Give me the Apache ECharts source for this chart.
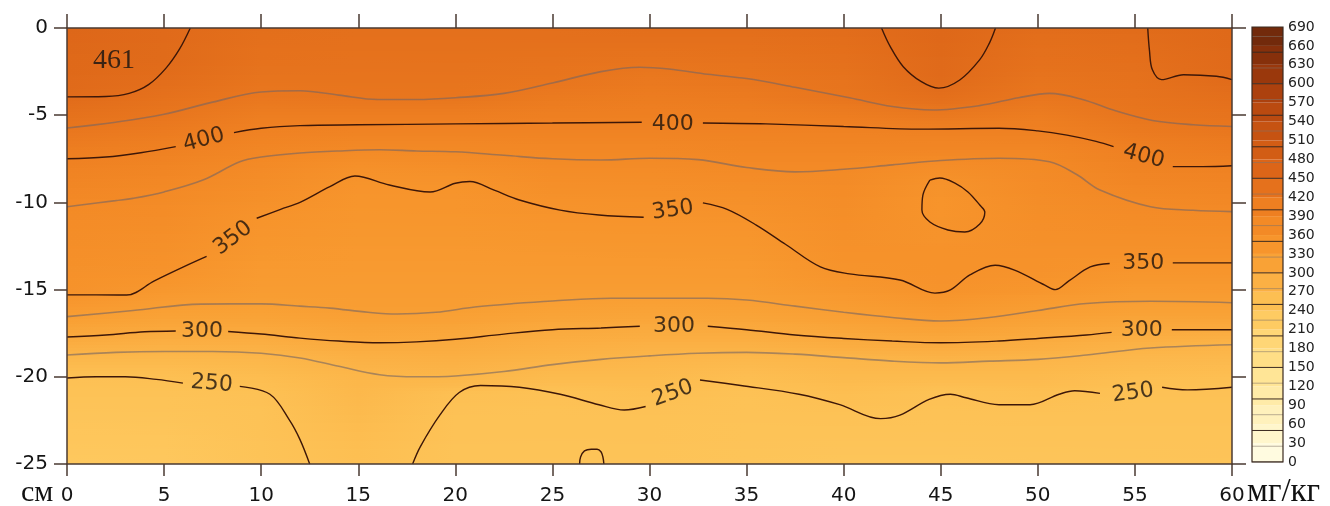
<!DOCTYPE html>
<html><head><meta charset="utf-8">
<script src="https://cdn.jsdelivr.net/npm/echarts@6/dist/echarts.min.js"></script>
<style>html,body{margin:0;padding:0;background:#fff}#c{width:1330px;height:506px}</style>
</head><body><div id="c"></div>
<script>
// ---------------- DATA ----------------
// x positions (cm) of the value grid columns, depth rows (cm)
const xCols = [0, 5, 10, 15, 20, 25, 30, 35, 40, 45, 50, 55, 60];
const depthRows = [0, -1, -2, -3, -4, -5, -6, -7, -8, -9, -10, -11, -12, -13, -14, -15, -16, -17, -18, -19, -20, -21, -22, -23, -24, -25];
// concentration, mg/kg (one row per depth, one value per x column)
const gridValues = [
  [461, 452, 442, 438, 438, 440, 443, 442, 446, 458, 445, 448, 456],
  [458, 451, 437, 435, 435, 435, 435, 436, 441, 456, 440, 443, 454],
  [455, 450, 433, 431, 432, 430, 427, 430, 436, 453, 435, 439, 452],
  [453, 444, 428, 428, 428, 426, 419, 424, 430, 451, 429, 434, 450],
  [449, 434, 421, 424, 425, 415, 411, 414, 425, 439, 423, 430, 440],
  [435, 425, 409, 408, 408, 405, 403, 405, 410, 419, 411, 425, 431],
  [421, 412, 397, 392, 392, 393, 393, 395, 396, 398, 399, 414, 421],
  [407, 400, 385, 375, 377, 381, 381, 385, 386, 384, 384, 402, 410],
  [396, 389, 373, 358, 362, 370, 371, 375, 375, 365, 374, 393, 399],
  [386, 379, 365, 348, 349, 361, 363, 366, 371, 351, 370, 384, 389],
  [377, 372, 357, 345, 346, 353, 355, 358, 367, 348, 366, 375, 380],
  [371, 367, 349, 342, 343, 347, 348, 350, 363, 349, 363, 368, 371],
  [366, 362, 344, 339, 339, 342, 343, 344, 358, 351, 359, 361, 363],
  [361, 356, 339, 336, 336, 337, 338, 339, 354, 354, 355, 354, 354],
  [356, 351, 334, 332, 332, 333, 333, 334, 350, 353, 352, 344, 345],
  [352, 339, 329, 329, 329, 328, 328, 328, 339, 351, 343, 333, 334],
  [336, 325, 322, 326, 326, 319, 317, 319, 328, 338, 328, 321, 322],
  [315, 307, 307, 315, 313, 304, 302, 304, 313, 321, 312, 305, 305],
  [293, 288, 290, 300, 298, 291, 287, 287, 296, 300, 294, 285, 281],
  [270, 269, 272, 283, 286, 279, 273, 270, 274, 279, 275, 269, 267],
  [251, 253, 260, 273, 275, 264, 264, 257, 265, 264, 265, 258, 256],
  [247, 247, 250, 269, 254, 250, 255, 249, 256, 250, 255, 249, 249],
  [243, 244, 248, 265, 249, 248, 249, 247, 249, 248, 249, 248, 248],
  [239, 240, 247, 261, 248, 247, 248, 246, 246, 245, 246, 246, 246],
  [236, 237, 246, 257, 246, 246, 246, 244, 243, 243, 244, 244, 245],
  [232, 233, 244, 253, 245, 244, 244, 242, 240, 240, 241, 242, 243]
];
const colorbarTicks = [0, 30, 60, 90, 120, 150, 180, 210, 240, 270, 300, 330, 360, 390, 420, 450, 480, 510, 540, 570, 600, 630, 660, 690];
const palette = ['#FFFBE0', '#FFF6CC', '#FFF1BC', '#FFEBA8', '#FFE596', '#FFDE86', '#FFD676', '#FECB62', '#FDBF52', '#FBB044', '#F9A236', '#F7952C', '#F38A26', '#EE7F21', '#E5711C', '#DC6518', '#D25D15', '#C65312', '#BA4A10', '#AC410E', '#9A380C', '#86300B', '#722A0B'];
const blackLevels = [0, 50, 100, 150, 200, 250, 300, 350, 400, 450, 500, 550, 600, 650];
const grayLevels = [25, 75, 125, 175, 225, 275, 325, 375, 425, 475, 525, 575, 625, 675];

// contour lines ([x cm, depth cm])
const c450a = [[0, -3.95], [2, -3.93], [3.2, -3.75], [4.2, -3.25], [5.1, -2.3], [5.8, -1.2], [6.35, 0]];
const c450b = [[41.95, 0], [42.4, -1.07], [43.07, -2.22], [44.0, -3.08], [44.9, -3.45], [45.98, -2.98], [47.0, -1.83], [47.5, -0.88], [47.82, 0]];
const c450c = [[55.66, 0], [55.75, -1.3], [55.9, -2.4], [56.37, -2.96], [57.5, -2.68], [59.2, -2.77], [60, -2.96]];
const c425 = [[0, -5.73], [2.5, -5.4], [5, -4.95], [7.5, -4.25], [10, -3.67], [12, -3.6], [14, -3.85], [16, -4.1], [18, -4.1], [20, -4.0], [22.5, -3.75], [25, -3.15], [27.5, -2.5], [29.5, -2.25], [31, -2.35], [33, -2.65], [35, -2.9], [37.5, -3.4], [40.3, -4.0], [42.5, -4.5], [44.6, -4.7], [47, -4.45], [49, -4.0], [50.6, -3.75], [52.3, -4.1], [54, -4.75], [55.9, -5.3], [58, -5.55], [60, -5.65]];
const c400a = [[0, -7.5], [2, -7.4], [3.8, -7.15], [5.6, -6.8]];
const c400b = [[8.6, -6.0], [10, -5.75], [12, -5.6], [15, -5.55], [20, -5.5], [25, -5.45], [29.6, -5.4]];
const c400c = [[32.75, -5.45], [36, -5.5], [40, -5.65], [44, -5.8], [48, -5.75], [50, -5.9], [51.5, -6.14], [53, -6.5], [53.9, -6.8]];
const c400d = [[56.95, -7.95], [58.5, -7.95], [60, -7.9]];
const c375 = [[0, -10.25], [2.5, -9.9], [3.4, -9.77], [5, -9.4], [7, -8.72], [8.9, -7.67], [10, -7.4], [12, -7.17], [14, -7.05], [16.1, -6.98], [18, -7.05], [20, -7.1], [22.5, -7.3], [25, -7.5], [27.5, -7.57], [30, -7.47], [32.5, -7.55], [35, -8.0], [37.5, -8.25], [40, -8.1], [42.5, -7.85], [45, -7.6], [48, -7.47], [50.6, -7.67], [52, -8.4], [53.2, -9.29], [55.8, -10.25], [58, -10.45], [60, -10.53]];
const c350a = [[0, -15.3], [1.5, -15.3], [3.07, -15.31], [4.5, -14.5], [6, -13.7], [7.19, -13.1]];
const c350b = [[9.77, -10.91], [11, -10.4], [12, -10.0], [13.54, -9.1], [14.83, -8.49], [16.6, -9.0], [18.7, -9.4], [20.0, -8.9], [20.75, -8.8], [22, -9.3], [23.3, -9.86], [25.4, -10.44], [27.4, -10.72], [29.7, -10.85]];
const c350c = [[32.75, -10.03], [34.0, -10.4], [35.5, -11.3], [37, -12.4], [38.8, -13.7], [40.3, -14.1], [42.9, -14.45], [44.7, -15.2], [45.5, -15.02], [46.5, -14.16], [47.8, -13.6], [48.8, -13.88], [50.36, -14.74], [50.9, -15.0], [51.6, -14.5], [52.7, -13.7], [53.7, -13.5]];
const c350d = [[56.95, -13.47], [60, -13.47]];
const c350loop = [[44.44, -8.72], [44.95, -8.6], [45.73, -8.89], [46.4, -9.4], [47.01, -10.15], [47.27, -10.55], [47.01, -11.24], [46.24, -11.7], [45.37, -11.58], [44.44, -11.12], [44.03, -10.44], [44.08, -9.58], [44.44, -8.72]];
const c325 = [[0, -16.55], [3.4, -16.2], [6.9, -15.83], [10, -15.82], [12, -15.95], [13.54, -16.06], [15.5, -16.3], [17, -16.4], [19, -16.3], [21, -16.0], [23, -15.8], [25, -15.65], [28, -15.5], [30, -15.5], [33, -15.5], [35, -15.6], [37.5, -15.95], [40, -16.3], [42.5, -16.6], [45, -16.8], [47.5, -16.6], [50, -16.2], [52.5, -15.8], [55.8, -15.67], [60, -15.75]];
const c300a = [[0, -17.72], [2, -17.6], [4, -17.42], [5.6, -17.37]];
const c300b = [[8.3, -17.4], [10, -17.55], [12, -17.78], [14, -17.95], [16.1, -18.05], [18, -18.0], [20, -17.85], [22.5, -17.55], [25, -17.3], [27.5, -17.2], [29.5, -17.1]];
const c300c = [[33, -17.1], [35, -17.3], [37.5, -17.6], [40, -17.8], [42.5, -17.95], [45, -18.05], [48, -17.95], [50, -17.8], [52.5, -17.6], [53.8, -17.45]];
const c300d = [[56.9, -17.3], [60, -17.3]];
const c275 = [[0, -18.75], [2.5, -18.6], [5, -18.55], [7.5, -18.55], [10, -18.65], [12, -18.92], [14, -19.4], [16.1, -19.88], [18, -20.0], [20, -19.95], [22.5, -19.7], [25, -19.3], [27.5, -19.0], [30, -18.8], [32.5, -18.65], [35, -18.6], [37.5, -18.7], [40, -18.9], [42.5, -19.1], [45, -19.2], [47.5, -19.1], [50, -19.0], [52.5, -18.75], [55.8, -18.35], [60, -18.16]];
const c250a = [[0, -20.07], [1.5, -20.0], [3, -20.0], [4.6, -20.15], [5.97, -20.36]];
const c250b = [[8.9, -20.55], [10.45, -21.0], [11.45, -22.47], [12.0, -23.6], [12.5, -25]];
const c250c = [[17.8, -25], [18.2, -24.0], [19.2, -22.2], [20.2, -20.9], [21.3, -20.5], [23.3, -20.6], [25.4, -21.0], [27.4, -21.6], [28.7, -21.9], [29.8, -21.7]];
const c250d = [[32.6, -20.18], [34.7, -20.5], [37.7, -21.0], [39.8, -21.6], [41.9, -22.4], [42.9, -22.2], [44.4, -21.3], [45.5, -21.0], [46.3, -21.2], [48.0, -21.6], [49.6, -21.6], [51.1, -21.0], [51.9, -20.8], [53.2, -20.95]];
const c250e = [[56.4, -20.6], [57.7, -20.75], [60, -20.6]];
const c250loop = [[26.4, -25], [26.45, -24.6], [26.65, -24.25], [27.0, -24.15], [27.3, -24.15], [27.5, -24.3], [27.6, -24.6], [27.65, -25]];

// contour labels: [x, depth, text, rotation deg]
const contourLabels = [
  [7.05, -6.42, '400', 15], [31.2, -5.5, '400', 0], [55.45, -7.37, '400', -15],
  [8.55, -12.05, '350', 37], [31.2, -10.45, '350', 8], [55.43, -13.47, '350', 0],
  [6.95, -17.37, '300', 0], [31.26, -17.09, '300', 0], [55.35, -17.33, '300', 0],
  [7.45, -20.4, '250', -5], [31.2, -20.95, '250', 20], [54.9, -20.93, '250', 8]
];
const peakNote = [2.42, -1.89, '461'];

// ---------------- CHART ----------------
const blackLines = [c450a, c450b, c450c, c400a, c400b, c400c, c400d, c350a, c350b, c350c, c350d, c350loop, c300a, c300b, c300c, c300d, c250a, c250b, c250c, c250d, c250e, c250loop];
const grayLines = [c425, c375, c325, c275];

const C_MIN = 15, C_MAX = 675;
function colorOf(v) {
  const t = Math.max(0, Math.min(1, (v - C_MIN) / (C_MAX - C_MIN)));
  return echarts.color.lerp(t, palette);
}

// one datum per grid cell (between neighbouring grid nodes)
const cells = [];
for (let r = 0; r < depthRows.length - 1; r++) {
  for (let c = 0; c < xCols.length - 1; c++) {
    cells.push([xCols[c], depthRows[r], gridValues[r][c], c, r]);
  }
}

const pieces = [];
for (let i = 0; i < colorbarTicks.length - 1; i++) {
  pieces.push([colorbarTicks[i], colorbarTicks[i + 1], (colorbarTicks[i] + colorbarTicks[i + 1]) / 2]);
}

const AX = '#4a3a32';
const FONT = 'DejaVu Sans';
const STRIPS = 6;

function renderCell(params, api) {
  const c = api.value(3), r = api.value(4);
  const v00 = gridValues[r][c], v10 = gridValues[r][c + 1];
  const v01 = gridValues[r + 1][c], v11 = gridValues[r + 1][c + 1];
  const pA = api.coord([xCols[c], depthRows[r]]);
  const pB = api.coord([xCols[c + 1], depthRows[r + 1]]);
  const xa = Math.round(pA[0]), xb = Math.round(pB[0]);
  const h = (pB[1] - pA[1]) / STRIPS;
  const children = [];
  for (let k = 0; k < STRIPS; k++) {
    const t = (k + 0.5) / STRIPS;
    const left = v00 + (v01 - v00) * t;
    const right = v10 + (v11 - v10) * t;
    const ya = Math.round(pA[1] + k * h), yb = Math.round(pA[1] + (k + 1) * h);
    if (yb <= ya) continue;
    children.push({
      type: 'rect',
      shape: { x: xa, y: ya, width: xb - xa, height: yb - ya },
      style: { fill: new echarts.graphic.LinearGradient(0, 0, 1, 0, [{ offset: 0, color: colorOf(left) }, { offset: 1, color: colorOf(right) }]) }
    });
  }
  return { type: 'group', children: children };
}
function renderPiece(params, api) {
  const p0 = api.coord([0, api.value(0)]);
  const p1 = api.coord([1, api.value(1)]);
  return { type: 'rect', shape: { x: p0[0], y: p1[1], width: p1[0] - p0[0], height: p0[1] - p1[1] }, style: { fill: colorOf(api.value(2)) } };
}

const series = [];
series.push({ type: 'custom', name: 'field', xAxisIndex: 0, yAxisIndex: 0, data: cells, renderItem: renderCell, z: 1, silent: true });
series.push({ type: 'custom', name: 'colorbar', xAxisIndex: 2, yAxisIndex: 2, data: pieces, renderItem: renderPiece, z: 1, silent: true });
grayLines.forEach(l => series.push({
  type: 'line', xAxisIndex: 0, yAxisIndex: 0, data: l, smooth: 0.35, symbol: 'none', silent: true, z: 3,
  lineStyle: { color: 'rgba(115,100,100,0.6)', width: 1.6 }
}));
blackLines.forEach(l => series.push({
  type: 'line', xAxisIndex: 0, yAxisIndex: 0, data: l, smooth: 0.35, symbol: 'none', silent: true, z: 4,
  lineStyle: { color: '#3d1708', width: 1.4 }
}));
series.push({
  type: 'scatter', xAxisIndex: 0, yAxisIndex: 0, symbolSize: 1, itemStyle: { color: 'rgba(0,0,0,0)' }, silent: true, z: 5,
  data: contourLabels.map(l => ({ value: [l[0], l[1]], label: { formatter: l[2], rotate: l[3] } })),
  label: { show: true, position: 'inside', fontFamily: FONT, fontSize: 22, color: '#1d130c' }
});
series.push({
  type: 'scatter', xAxisIndex: 0, yAxisIndex: 0, symbolSize: 1, itemStyle: { color: 'rgba(0,0,0,0)' }, silent: true, z: 5,
  data: [{ value: [peakNote[0], peakNote[1]] }],
  label: { show: true, position: 'inside', formatter: peakNote[2], fontFamily: 'Liberation Serif', fontSize: 28, color: '#111' }
});
blackLevels.forEach(v => series.push({
  type: 'line', xAxisIndex: 2, yAxisIndex: 2, data: [[0, v], [1, v]], symbol: 'none', silent: true, z: 3,
  lineStyle: { color: '#3b2a20', width: 1 }
}));
grayLevels.forEach(v => series.push({
  type: 'line', xAxisIndex: 2, yAxisIndex: 2, data: [[0, v], [1, v]], symbol: 'none', silent: true, z: 3,
  lineStyle: { color: 'rgba(130,115,105,0.55)', width: 1 }
}));

const option = {
  animation: false,
  backgroundColor: '#fff',
  grid: [
    { left: 67, top: 28, width: 1165, height: 436, outerBoundsMode: 'none', containLabel: false },
    { left: 1252, top: 27, width: 31, height: 435, outerBoundsMode: 'none', containLabel: false, show: true, borderColor: '#3b2a20', borderWidth: 1.2, backgroundColor: 'transparent', z: 10 }
  ],
  xAxis: [
    { gridIndex: 0, type: 'value', min: 0, max: 60, interval: 5, position: 'bottom', z: 10,
      axisLine: { show: true, onZero: false, lineStyle: { color: AX, width: 1.5 } },
      axisTick: { show: true, inside: false, length: 12, lineStyle: { color: AX, width: 1.5 } },
      axisLabel: { fontFamily: FONT, fontSize: 20, color: '#151515', margin: 22 },
      splitLine: { show: false } },
    { gridIndex: 0, type: 'value', min: 0, max: 60, interval: 5, position: 'top', z: 10,
      axisLine: { show: true, onZero: false, lineStyle: { color: AX, width: 1.5 } },
      axisTick: { show: true, inside: false, length: 14, lineStyle: { color: AX, width: 1.5 } },
      axisLabel: { show: false }, splitLine: { show: false } },
    { gridIndex: 1, type: 'value', min: 0, max: 1, show: false }
  ],
  yAxis: [
    { gridIndex: 0, type: 'value', min: -25, max: 0, interval: 5, position: 'left', z: 10,
      axisLine: { show: true, onZero: false, lineStyle: { color: AX, width: 1.5 } },
      axisTick: { show: true, inside: false, length: 13, lineStyle: { color: AX, width: 1.5 } },
      axisLabel: { fontFamily: FONT, fontSize: 20, color: '#151515', margin: 19 },
      splitLine: { show: false } },
    { gridIndex: 0, type: 'value', min: -25, max: 0, interval: 5, position: 'right', z: 10,
      axisLine: { show: true, onZero: false, lineStyle: { color: AX, width: 1.5 } },
      axisTick: { show: true, inside: false, length: 14, lineStyle: { color: AX, width: 1.5 } },
      axisLabel: { show: false }, splitLine: { show: false } },
    { gridIndex: 1, type: 'value', min: 0, max: 690, interval: 30, position: 'right',
      axisLine: { show: false }, axisTick: { show: false }, splitLine: { show: false },
      axisLabel: { fontFamily: FONT, fontSize: 14, color: '#222', margin: 5 } }
  ],
  graphic: [
    { type: 'text', left: 21, top: 478, style: { text: 'см', font: '30px "Liberation Serif"', fill: '#111' } },
    { type: 'text', left: 1247, top: 476, style: { text: 'мг/кг', font: '33px "Liberation Serif"', fill: '#111' } }
  ],
  series: series
};

const chart = echarts.init(document.getElementById('c'), null, { renderer: 'canvas' });
chart.setOption(option);
</script>
</body></html>
